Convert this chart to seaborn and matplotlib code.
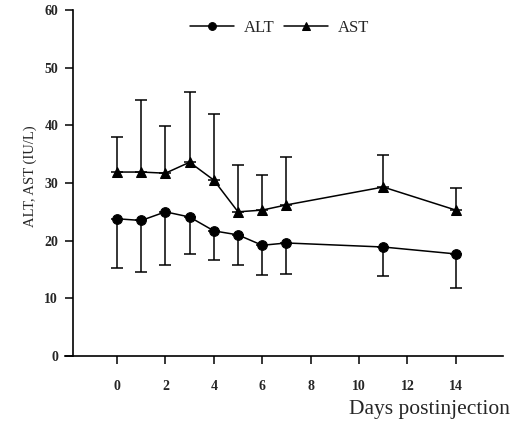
import matplotlib
matplotlib.use("Agg")
import matplotlib.pyplot as plt
import seaborn as sns
import pandas as pd
import numpy as np

days = [0, 1, 2, 3, 4, 5, 6, 7, 11, 14]
alt_mean = [23.8, 23.5, 25.0, 24.1, 21.7, 21.0, 19.2, 19.6, 18.9, 17.7]
alt_lower = [15.3, 14.6, 15.8, 17.7, 16.6, 15.7, 14.0, 14.2, 13.9, 11.8]
ast_mean = [31.9, 31.9, 31.7, 33.6, 30.5, 25.0, 25.3, 26.2, 29.3, 25.3]
ast_upper = [38.0, 44.4, 39.9, 45.7, 41.9, 33.1, 31.4, 34.5, 34.8, 29.1]
xticks = [0, 2, 4, 6, 8, 10, 12, 14]
yticks = [0, 10, 20, 30, 40, 50, 60]

sns.set_style("white")
plt.rcParams['font.family'] = ['Liberation Serif', 'DejaVu Serif']

df = pd.DataFrame({
    "day": days * 2,
    "value": alt_mean + ast_mean,
    "enzyme": ["ALT"] * len(days) + ["AST"] * len(days),
})

fig = plt.figure(figsize=(5.15, 4.24), dpi=100)
ax = fig.add_axes([65 / 515, 1 - 356 / 424, 438 / 515, 346 / 424])

sns.lineplot(data=df, x="day", y="value", hue="enzyme", style="enzyme",
             markers={"ALT": "o", "AST": "^"}, dashes=False,
             palette={"ALT": "black", "AST": "black"}, markersize=7,
             linewidth=1.1, markeredgecolor="black", ax=ax)

a_m = np.array(alt_mean); a_l = np.array(alt_lower)
s_m = np.array(ast_mean); s_u = np.array(ast_upper)
ax.errorbar(days, a_m, yerr=[a_m - a_l, np.zeros_like(a_m)], fmt="none",
            ecolor="black", elinewidth=1.1, capsize=4, capthick=1.1)
ax.errorbar(days, s_m, yerr=[np.zeros_like(s_m), s_u - s_m], fmt="none",
            ecolor="black", elinewidth=1.1, capsize=4, capthick=1.1)

ax.set_xlim(-2.15, 15.95)
ax.set_ylim(0, 60)
ax.set_xticks(xticks)
ax.set_yticks(yticks)
ax.spines["top"].set_visible(False)
ax.spines["right"].set_visible(False)
ax.spines["left"].set_position(("data", -1.8))
ax.spines["left"].set_bounds(0, 60)
for s in ["left", "bottom"]:
    ax.spines[s].set_color("black")
    ax.spines[s].set_linewidth(1.2)
ax.tick_params(axis="y", direction="out", length=6, width=1.1, color="black",
               labelsize=10, pad=5, left=True)
ax.tick_params(axis="x", direction="out", length=6, width=1.1, color="black",
               labelsize=10, pad=11, bottom=True)
for lab in ax.get_xticklabels() + ax.get_yticklabels():
    lab.set_fontweight("bold")

ax.set_xlabel("")
ax.set_ylabel("ALT, AST (IU/L)", fontsize=10.5)
ax.yaxis.set_label_coords(-0.064, 0.52)
fig.text(0.99, 0.012, "Days postinjection", ha="right", va="bottom",
         fontsize=15.5)

h, l = ax.get_legend_handles_labels()
ax.legend(h, l, ncol=2, frameon=False, loc="center", bbox_to_anchor=(0.49, 0.948),
          fontsize=12, handlelength=2.6, columnspacing=0.6, handletextpad=0.6,
          markerscale=0.8)

fig.savefig("out.png", dpi=100)
